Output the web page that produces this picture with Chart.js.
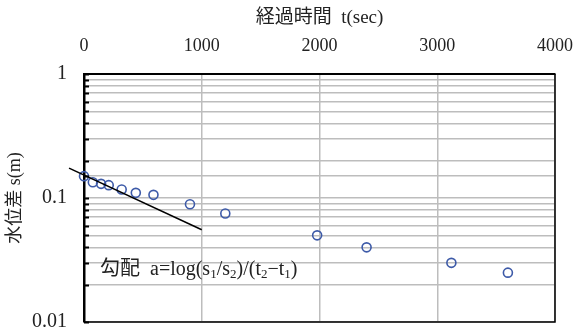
<!DOCTYPE html>
<html>
<head>
<meta charset="utf-8">
<script src="https://cdn.jsdelivr.net/npm/chart.js@4/dist/chart.umd.min.js"></script>
<style>
  html, body { margin: 0; padding: 0; background: #fff; }
  #wrap { position: relative; width: 576px; height: 331px; }
  #note {
    position: absolute; left: 100px; top: 252px;
    font: 20px 'Liberation Serif', 'Noto Sans CJK JP', serif;
    color: #222; white-space: pre;
  }
  #note sub { font-size: 13px; vertical-align: -3px; line-height: 0; }
</style>
</head>
<body>
<div id="wrap">
  <canvas id="chart" width="576" height="331"></canvas>
  <div id="note">勾配  a=log(s<sub>1</sub>/s<sub>2</sub>)/(t<sub>2</sub>−t<sub>1</sub>)</div>
</div>
<script>
// elapsed time (sec) and drawdown s (m)
const elapsedSec = [0, 75, 145, 210, 320, 440, 590, 900, 1200, 1980, 2400, 3120, 3600];
const drawdown = [0.150, 0.134, 0.130, 0.127, 0.117, 0.110, 0.106, 0.089, 0.075, 0.050, 0.040, 0.030, 0.025];

// hand-drawn slope line
const slopeT = [-127, 1000];
const slopeS = [0.174, 0.0555];

const yLabels = [1, 0.1, 0.01];

const FONT = "'Liberation Serif', 'Noto Sans CJK JP', serif";

// black frame on right/bottom and short inward ticks on the left axis
const framePlugin = {
  id: 'frame',
  afterDatasetsDraw(chart) {
    const { ctx, chartArea: a, scales } = chart;
    ctx.save();
    ctx.strokeStyle = '#000';
    ctx.lineWidth = 2;
    scales.y.ticks.forEach(t => {
      const py = Math.round(scales.y.getPixelForValue(t.value)) + 0.5;
      ctx.beginPath();
      ctx.moveTo(a.left, py);
      ctx.lineTo(a.left + 5, py);
      ctx.stroke();
    });
    ctx.lineWidth = 1.5;
    ctx.beginPath();
    ctx.moveTo(a.left, a.bottom);
    ctx.lineTo(a.right, a.bottom);
    ctx.lineTo(a.right, a.top);
    ctx.stroke();
    ctx.restore();
  }
};

new Chart(document.getElementById('chart'), {
  type: 'scatter',
  data: {
    datasets: [
      {
        label: 'slope',
        type: 'line',
        data: slopeT.map((t, i) => ({ x: t, y: slopeS[i] })),
        borderColor: '#000',
        borderWidth: 1.5,
        pointRadius: 0,
        clip: false
      },
      {
        label: 's',
        data: elapsedSec.map((t, i) => ({ x: t, y: drawdown[i] })),
        pointStyle: 'circle',
        pointRadius: 4.5,
        pointBorderWidth: 1.6,
        pointBorderColor: '#3d5aa8',
        pointBackgroundColor: 'rgba(255,255,255,0)',
        clip: false
      }
    ]
  },
  options: {
    responsive: false,
    animation: false,
    layout: { padding: { left: 4, right: 21, top: 4, bottom: 9 } },
    plugins: { legend: { display: false }, tooltip: { enabled: false } },
    scales: {
      x: {
        type: 'linear',
        position: 'top',
        min: 0,
        max: 4000,
        afterFit(scale) {
          scale.height = 70;
          scale.paddingLeft = 0;
          scale.paddingRight = 0;
        },
        ticks: {
          stepSize: 1000,
          color: '#222',
          padding: 17,
          font: { family: FONT, size: 18 },
          callback: v => String(v)
        },
        grid: { color: '#bdbdbd', lineWidth: 1.5, drawTicks: false },
        border: { color: '#000', width: 2 },
        title: {
          display: true,
          text: '経過時間  t(sec)',
          color: '#222',
          padding: { top: 3, bottom: 0 },
          font: { family: FONT, size: 19 }
        }
      },
      y: {
        type: 'logarithmic',
        min: 0.01,
        max: 1,
        afterFit(scale) {
          scale.width = 80;
          scale.paddingTop = 0;
          scale.paddingBottom = 0;
        },
        ticks: {
          autoSkip: false,
          color: '#222',
          padding: 17,
          font: { family: FONT, size: 20 },
          callback(v) {
            const n = Number(v.toPrecision(3));
            return yLabels.includes(n) ? String(n) : '';
          }
        },
        grid: { color: '#bdbdbd', lineWidth: 1.5, drawTicks: false },
        border: { color: '#000', width: 2.5 },
        title: {
          display: true,
          text: '水位差 s(m)',
          color: '#222',
          padding: { top: 0, bottom: 0 },
          font: { family: FONT, size: 18 }
        }
      }
    }
  },
  plugins: [framePlugin]
});
</script>
</body>
</html>
